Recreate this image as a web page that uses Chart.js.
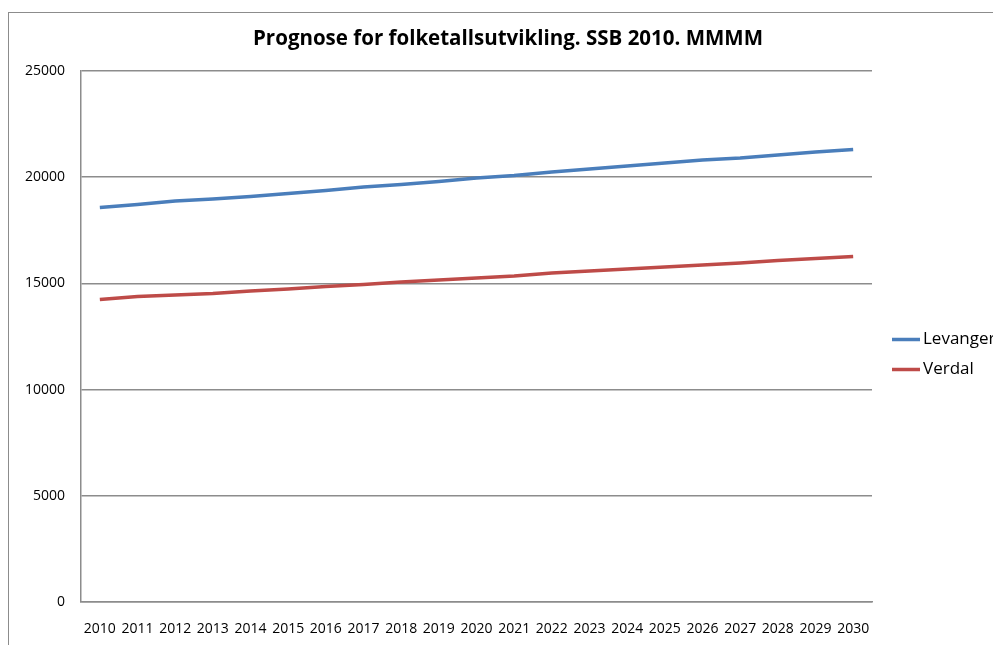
<!DOCTYPE html>
<html>
<head>
<meta charset="utf-8">
<script src="https://cdn.jsdelivr.net/npm/chart.js@4"></script>
<style>
  html, body { margin: 0; padding: 0; background: #fff; overflow: hidden; width: 993px; height: 645px; }
  #frame { position: absolute; left: 8px; top: 12px; width: 1010px; height: 660px; border: 1.5px solid #8c8c8c; }
  #frame canvas { display: block; }
</style>
</head>
<body>
<div id="frame"><canvas id="chart" width="1010" height="660"></canvas></div>
<script>
// Chart data
const titleText = 'Prognose for folketallsutvikling. SSB 2010. MMMM';
const years = ['2010', '2011', '2012', '2013', '2014', '2015', '2016', '2017', '2018', '2019', '2020',
               '2021', '2022', '2023', '2024', '2025', '2026', '2027', '2028', '2029', '2030'];
const levanger = [18570, 18710, 18880, 18975, 19090, 19230, 19375, 19540, 19655, 19800, 19960,
                  20080, 20245, 20385, 20525, 20670, 20810, 20905, 21045, 21185, 21300];
const verdal = [14240, 14385, 14455, 14525, 14640, 14735, 14855, 14950, 15065, 15160, 15255,
                15350, 15490, 15585, 15680, 15770, 15865, 15960, 16080, 16175, 16265];
const yTicks = [0, 5000, 10000, 15000, 20000, 25000];

const fontFamily = "'Open Sans', 'Noto Sans', sans-serif";

// Title centred over the whole chart box, like in Excel
const chartTitle = {
    id: 'chartTitle',
    afterDraw(chart) {
        const ctx = chart.ctx;
        ctx.save();
        ctx.font = 'bold 20.5px ' + fontFamily;
        ctx.fillStyle = '#000';
        ctx.textAlign = 'center';
        ctx.textBaseline = 'middle';
        ctx.fillText(titleText, 499, 26);
        ctx.restore();
    }
};

// Excel style legend to the right of the plot
const sideLegend = {
    id: 'sideLegend',
    afterDraw(chart) {
        const ctx = chart.ctx;
        const area = chart.chartArea;
        const x0 = area.right + 20;
        let y = (area.top + area.bottom) / 2 + 3;
        ctx.save();
        ctx.font = '17px ' + fontFamily;
        ctx.textBaseline = 'middle';
        chart.data.datasets.forEach(ds => {
            ctx.strokeStyle = ds.borderColor;
            ctx.lineWidth = 3.5;
            ctx.beginPath();
            ctx.moveTo(x0, y);
            ctx.lineTo(x0 + 28, y);
            ctx.stroke();
            ctx.fillStyle = '#000';
            ctx.fillText(ds.label, x0 + 31, y);
            y += 30;
        });
        ctx.restore();
    }
};

const ctx = document.getElementById('chart').getContext('2d');
new Chart(ctx, {
    type: 'line',
    data: {
        labels: years,
        datasets: [{
            label: 'Levanger',
            data: levanger,
            borderColor: '#4a7ebb',
            borderWidth: 3.5,
            pointRadius: 0,
            tension: 0
        }, {
            label: 'Verdal',
            data: verdal,
            borderColor: '#be4b48',
            borderWidth: 3.5,
            pointRadius: 0,
            tension: 0
        }]
    },
    options: {
        responsive: false,
        animation: false,
        layout: {
            padding: { left: 0, right: 147, top: 58, bottom: 11 }
        },
        plugins: {
            legend: { display: false },
            tooltip: { enabled: false },
            title: { display: false }
        },
        scales: {
            x: {
                offset: true,
                grid: { display: false, drawTicks: false },
                border: { display: true, color: '#8c8c8c', width: 1.5 },
                ticks: {
                    color: '#000',
                    font: { family: fontFamily, size: 14 },
                    maxRotation: 0,
                    autoSkip: false,
                    padding: 19
                },
                afterFit(scale) { scale.height = 60; }
            },
            y: {
                min: 0,
                max: 25000,
                afterBuildTicks(scale) { scale.ticks = yTicks.map(v => ({ value: v })); },
                grid: { color: '#8c8c8c', lineWidth: 1.5, drawTicks: false },
                border: { display: true, color: '#8c8c8c', width: 1.5 },
                ticks: {
                    color: '#000',
                    font: { family: fontFamily, size: 14 },
                    padding: 16,
                    callback: v => String(v)
                },
                afterFit(scale) { scale.width = 72; }
            }
        }
    },
    plugins: [chartTitle, sideLegend]
});
</script>
</body>
</html>
